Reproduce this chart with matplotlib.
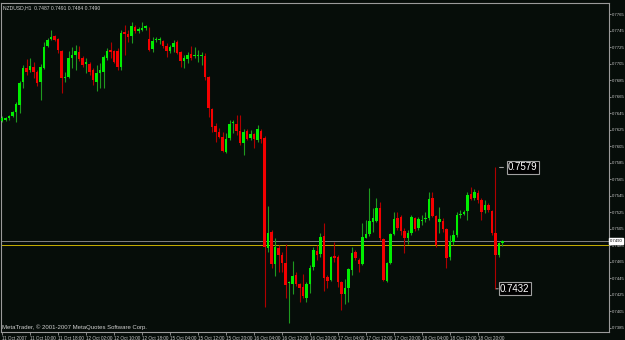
import matplotlib
matplotlib.use("Agg")
import matplotlib.pyplot as plt
import numpy as np

# NZDUSD H1 bars (open, high, low, close)
opens = [0.7635, 0.7637, 0.7639, 0.7641, 0.7646, 0.7655, 0.7683, 0.7700, 0.7697, 0.7701,
         0.7695, 0.7683, 0.7700, 0.7726, 0.7735, 0.7738, 0.7735, 0.7720, 0.7688, 0.7689,
         0.7712, 0.7715, 0.7719, 0.7712, 0.7704, 0.7704, 0.7697, 0.7683, 0.7694, 0.7695,
         0.7712, 0.7721, 0.7720, 0.7720, 0.7701, 0.7743, 0.7741, 0.7738, 0.7749, 0.7744,
         0.7746, 0.7748, 0.7735, 0.7723, 0.7734, 0.7733, 0.7732, 0.7726, 0.7720, 0.7725,
         0.7731, 0.7719, 0.7708, 0.7710, 0.7717, 0.7714, 0.7714, 0.7714, 0.7714, 0.7689,
         0.7650, 0.7629, 0.7622, 0.7616, 0.7598, 0.7615, 0.7633, 0.7632, 0.7623, 0.7609,
         0.7623, 0.7615, 0.7620, 0.7612, 0.7623, 0.7615, 0.7481, 0.7501, 0.7462, 0.7481,
         0.7473, 0.7463, 0.7439, 0.7438, 0.7449, 0.7438, 0.7434, 0.7421, 0.7438, 0.7458,
         0.7478, 0.7474, 0.7496, 0.7446, 0.7443, 0.7472, 0.7470, 0.7440, 0.7426, 0.7433,
         0.7455, 0.7477, 0.7467, 0.7462, 0.7494, 0.7498, 0.7513, 0.7514, 0.7530, 0.7492,
         0.7442, 0.7463, 0.7498, 0.7518, 0.7519, 0.7502, 0.7494, 0.7500, 0.7518, 0.7506,
         0.7514, 0.7517, 0.7518, 0.7542, 0.7520, 0.7513, 0.7514, 0.7504, 0.7470, 0.7489,
         0.7497, 0.7521, 0.7523, 0.7526, 0.7547, 0.7542, 0.7548, 0.7540, 0.7527, 0.7534,
         0.7526, 0.7500, 0.7473, 0.7487]
highs = [0.7641, 0.7640, 0.7643, 0.7648, 0.7658, 0.7684, 0.7703, 0.7710, 0.7712, 0.7707,
         0.7697, 0.7704, 0.7731, 0.7736, 0.7746, 0.7740, 0.7736, 0.7721, 0.7695, 0.7720,
         0.7725, 0.7727, 0.7726, 0.7714, 0.7712, 0.7707, 0.7700, 0.7703, 0.7706, 0.7715,
         0.7724, 0.7731, 0.7722, 0.7724, 0.7746, 0.7752, 0.7746, 0.7755, 0.7752, 0.7749,
         0.7755, 0.7752, 0.7749, 0.7737, 0.7737, 0.7737, 0.7734, 0.7730, 0.7727, 0.7734,
         0.7734, 0.7720, 0.7715, 0.7719, 0.7726, 0.7725, 0.7721, 0.7719, 0.7718, 0.7690,
         0.7651, 0.7633, 0.7627, 0.7622, 0.7621, 0.7637, 0.7637, 0.7643, 0.7643, 0.7626,
         0.7626, 0.7624, 0.7621, 0.7631, 0.7626, 0.7617, 0.7532, 0.7503, 0.7494, 0.7485,
         0.7477, 0.7486, 0.7442, 0.7466, 0.7452, 0.7439, 0.7450, 0.7440, 0.7461, 0.7483,
         0.7485, 0.7500, 0.7512, 0.7449, 0.7472, 0.7489, 0.7473, 0.7442, 0.7444, 0.7457,
         0.7483, 0.7479, 0.7469, 0.7512, 0.7515, 0.7554, 0.7530, 0.7542, 0.7537, 0.7494,
         0.7464, 0.7500, 0.7525, 0.7525, 0.7521, 0.7506, 0.7503, 0.7521, 0.7519, 0.7519,
         0.7521, 0.7525, 0.7549, 0.7549, 0.7522, 0.7531, 0.7518, 0.7506, 0.7497, 0.7503,
         0.7525, 0.7527, 0.7527, 0.7549, 0.7555, 0.7553, 0.7552, 0.7542, 0.7540, 0.7536,
         0.7527, 0.7579, 0.7489, 0.7491]
lows = [0.7634, 0.7635, 0.7637, 0.7640, 0.7634, 0.7645, 0.7675, 0.7691, 0.7695, 0.7687,
        0.7678, 0.7661, 0.7698, 0.7725, 0.7733, 0.7732, 0.7718, 0.7669, 0.7683, 0.7687,
        0.7700, 0.7697, 0.7708, 0.7701, 0.7694, 0.7691, 0.7679, 0.7672, 0.7675, 0.7675,
        0.7709, 0.7712, 0.7706, 0.7697, 0.7697, 0.7715, 0.7731, 0.7730, 0.7742, 0.7742,
        0.7744, 0.7746, 0.7720, 0.7719, 0.7731, 0.7729, 0.7724, 0.7713, 0.7718, 0.7719,
        0.7717, 0.7701, 0.7700, 0.7706, 0.7709, 0.7712, 0.7707, 0.7703, 0.7685, 0.7640,
        0.7622, 0.7610, 0.7615, 0.7598, 0.7597, 0.7612, 0.7621, 0.7618, 0.7606, 0.7594,
        0.7612, 0.7612, 0.7603, 0.7610, 0.7609, 0.7410, 0.7477, 0.7457, 0.7447, 0.7452,
        0.7452, 0.7421, 0.7390, 0.7426, 0.7435, 0.7416, 0.7421, 0.7416, 0.7427, 0.7455,
        0.7467, 0.7470, 0.7429, 0.7433, 0.7442, 0.7464, 0.7434, 0.7406, 0.7414, 0.7416,
        0.7449, 0.7467, 0.7452, 0.7461, 0.7494, 0.7496, 0.7501, 0.7513, 0.7491, 0.7442,
        0.7440, 0.7462, 0.7497, 0.7503, 0.7497, 0.7475, 0.7486, 0.7497, 0.7502, 0.7503,
        0.7509, 0.7513, 0.7515, 0.7519, 0.7483, 0.7500, 0.7501, 0.7457, 0.7467, 0.7485,
        0.7495, 0.7518, 0.7521, 0.7515, 0.7540, 0.7540, 0.7536, 0.7515, 0.7524, 0.7525,
        0.7497, 0.7432, 0.7470, 0.7484]
closes = [0.7639, 0.7639, 0.7641, 0.7646, 0.7656, 0.7681, 0.7700, 0.7695, 0.7702, 0.7695,
          0.7681, 0.7701, 0.7725, 0.7734, 0.7737, 0.7734, 0.7721, 0.7687, 0.7689, 0.7712,
          0.7715, 0.7720, 0.7710, 0.7703, 0.7707, 0.7695, 0.7685, 0.7694, 0.7697, 0.7713,
          0.7720, 0.7719, 0.7707, 0.7701, 0.7742, 0.7741, 0.7737, 0.7750, 0.7744, 0.7747,
          0.7748, 0.7750, 0.7721, 0.7732, 0.7735, 0.7734, 0.7726, 0.7720, 0.7725, 0.7730,
          0.7718, 0.7708, 0.7712, 0.7715, 0.7712, 0.7715, 0.7715, 0.7715, 0.7689, 0.7651,
          0.7628, 0.7622, 0.7616, 0.7599, 0.7614, 0.7632, 0.7634, 0.7623, 0.7609, 0.7622,
          0.7614, 0.7620, 0.7614, 0.7626, 0.7614, 0.7483, 0.7500, 0.7462, 0.7483, 0.7473,
          0.7463, 0.7437, 0.7440, 0.7447, 0.7438, 0.7433, 0.7423, 0.7438, 0.7457, 0.7479,
          0.7473, 0.7495, 0.7445, 0.7442, 0.7470, 0.7469, 0.7440, 0.7426, 0.7433, 0.7456,
          0.7475, 0.7469, 0.7462, 0.7495, 0.7498, 0.7514, 0.7518, 0.7530, 0.7494, 0.7443,
          0.7463, 0.7498, 0.7517, 0.7506, 0.7502, 0.7494, 0.7500, 0.7519, 0.7504, 0.7517,
          0.7515, 0.7518, 0.7541, 0.7520, 0.7485, 0.7517, 0.7504, 0.7469, 0.7489, 0.7497,
          0.7521, 0.7523, 0.7525, 0.7546, 0.7541, 0.7549, 0.7540, 0.7525, 0.7534, 0.7527,
          0.7500, 0.7473, 0.7487, 0.7490]

time_labels = ["11 Oct 2007", "11 Oct 10:00", "11 Oct 18:00", "12 Oct 02:00", "12 Oct 10:00",
               "12 Oct 18:00", "15 Oct 04:00", "15 Oct 12:00", "15 Oct 20:00", "16 Oct 04:00",
               "16 Oct 12:00", "16 Oct 20:00", "17 Oct 04:00", "17 Oct 12:00", "17 Oct 20:00",
               "18 Oct 04:00", "18 Oct 12:00", "18 Oct 20:00"]
label_every = 8
price_ticks = np.arange(0.7385, 0.77651, 0.0020)
bid = 0.7490
hline_level = 0.7485
max_price = 0.7579
min_price = 0.7432

plt.rcParams['font.family'] = ['Liberation Sans', 'DejaVu Sans']

bg = "#060d09"
fig = plt.figure(figsize=(6.25, 3.4), dpi=100, facecolor=bg)
ax = fig.add_axes([1 / 625, 8.5 / 340, 607.5 / 625, 329 / 340], facecolor=bg)

o = np.array(opens); h = np.array(highs); l = np.array(lows); c = np.array(closes)
idx = np.arange(len(o))
up = c >= o

ax.vlines(idx[up], l[up], h[up], color="#1f9a1f", lw=0.8, zorder=2)
ax.vlines(idx[~up], l[~up], h[~up], color="#b00000", lw=0.8, zorder=2)
body_lo = np.minimum(o, c)
body_h = np.maximum(np.abs(c - o), 0.00012)
ax.bar(idx[up], body_h[up], bottom=body_lo[up], width=0.62, color="#00ee00", lw=0, zorder=3)
ax.bar(idx[~up], body_h[~up], bottom=body_lo[~up], width=0.62, color="#f40000", lw=0, zorder=3)

# bid line and horizontal line object
ax.axhline(bid, color="#808080", lw=0.7, zorder=1)
ax.axhline(hline_level, color="#c8b000", lw=0.7, zorder=1)

ax.set_xlim(-0.3, 173.3)
ax.set_ylim(0.73802, 0.77790)

ax.yaxis.tick_right()
ax.set_yticks(price_ticks)
ax.set_yticklabels([f"{p:.4f}" for p in price_ticks])
tick_pos = np.arange(len(time_labels)) * label_every
ax.set_xticks(tick_pos)
ax.set_xticklabels(time_labels, ha="left")
ax.tick_params(axis="both", colors="#9a9a9a", labelcolor="#c8c8c8",
               length=2, width=0.6)
ax.tick_params(axis="x", labelsize=3.3, pad=1.2)
ax.tick_params(axis="y", labelsize=3.1, pad=0.6, length=1.5)
for s in ax.spines.values():
    s.set_color("#9a9a9a")
    s.set_linewidth(0.8)

# current price label on the right
ax.text(1.002, bid, f"{bid:.4f}", transform=ax.get_yaxis_transform(), fontsize=3.1,
        color="black", va="center", ha="left",
        bbox=dict(boxstyle="square,pad=0.2", fc="white", ec="white"))

# high / low markers on the spike bar
idx_hi = int(np.argmin(np.abs(h - max_price)))
idx_lo = int(np.argmin(np.abs(l - min_price)))
ax.annotate(f"{max_price:.4f}", xy=(idx_hi + 0.4, max_price), xytext=(idx_hi + 3.6, max_price),
            fontsize=7, color="white", va="center", ha="left",
            bbox=dict(boxstyle="square,pad=0.15", fc="black", ec="#a0a0a0", lw=0.8),
            arrowprops=dict(arrowstyle="-", color="#a0a0a0", lw=0.8))
ax.annotate(f"{min_price:.4f}", xy=(idx_lo + 0.2, min_price), xytext=(idx_lo + 1.3, min_price),
            fontsize=7, color="white", va="center", ha="left",
            bbox=dict(boxstyle="square,pad=0.15", fc="black", ec="#a0a0a0", lw=0.8),
            arrowprops=dict(arrowstyle="-", color="#a0a0a0", lw=0.8))

ax.text(0.004, 0.992, f"NZDUSD,H1  {o[-1]:.4f} {h[-1]:.4f} {l[-1]:.4f} {c[-1]:.4f}",
        transform=ax.transAxes, fontsize=3.6, color="#d0d0d0", va="top", ha="left")
ax.text(0.002, 0.004, "MetaTrader, \u00a9 2001-2007 MetaQuotes Software Corp.",
        transform=ax.transAxes, fontsize=4.3, color="#d0d0d0", va="bottom", ha="left")

fig.savefig("out.png", dpi=100, facecolor=bg)
